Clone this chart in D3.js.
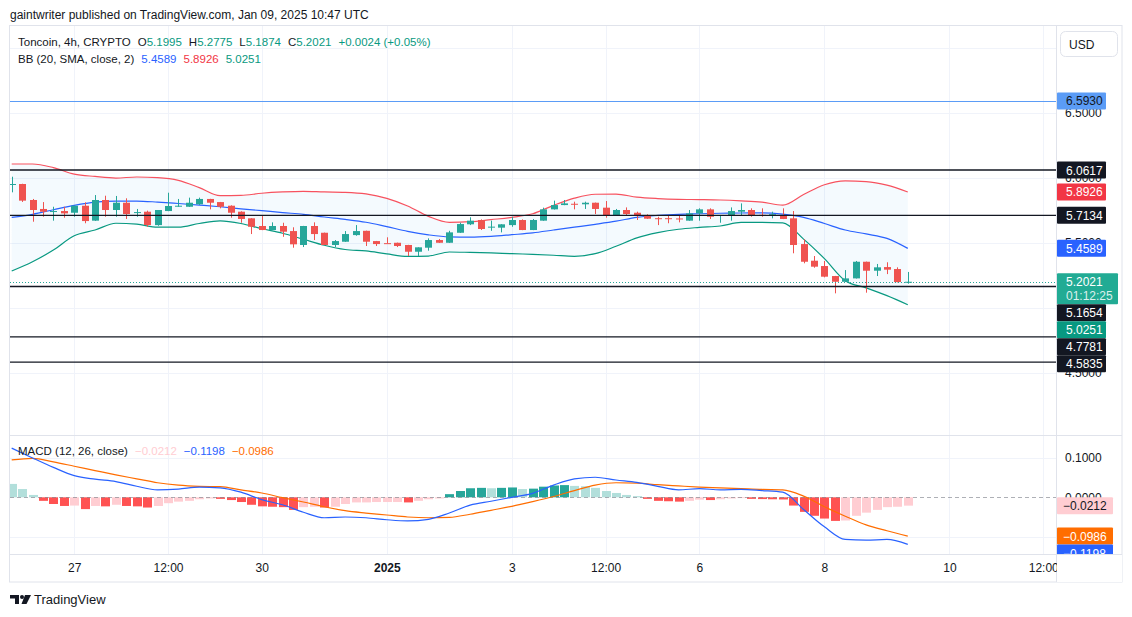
<!DOCTYPE html>
<html lang="en">
<head>
<meta charset="UTF-8">
<title>Toncoin 4h - TradingView</title>
<script src="https://d3js.org/d3.v7.min.js"></script>
<style>
  body { margin: 0; background: #fff; }
  svg { display: block; font-family: "Liberation Sans", Arial, sans-serif; }
  .tick text { font-size: 12px; fill: #131722; }
</style>
</head>
<body>
<svg width="1132" height="617"></svg>
<script>
// ---- data ----
// 4h candles, first one opens 2024-12-26 00:00 UTC: [open, high, low, close]
const ohlc = [
  [5.950, 6.010, 5.890, 5.954], [5.954, 5.956, 5.816, 5.826], [5.831, 5.839, 5.664, 5.754],
  [5.762, 5.815, 5.702, 5.741], [5.742, 5.779, 5.672, 5.746], [5.746, 5.779, 5.695, 5.728],
  [5.733, 5.787, 5.702, 5.787], [5.787, 5.813, 5.652, 5.669], [5.672, 5.869, 5.670, 5.831],
  [5.831, 5.864, 5.702, 5.754], [5.754, 5.862, 5.702, 5.810], [5.810, 5.844, 5.685, 5.723],
  [5.734, 5.762, 5.702, 5.738], [5.741, 5.749, 5.625, 5.638], [5.638, 5.754, 5.633, 5.754],
  [5.746, 5.887, 5.745, 5.785], [5.782, 5.839, 5.779, 5.787], [5.779, 5.849, 5.778, 5.810],
  [5.798, 5.849, 5.792, 5.839], [5.839, 5.840, 5.759, 5.810], [5.815, 5.816, 5.767, 5.779],
  [5.787, 5.790, 5.695, 5.733], [5.741, 5.744, 5.656, 5.685], [5.690, 5.691, 5.569, 5.625],
  [5.631, 5.715, 5.599, 5.600], [5.600, 5.659, 5.599, 5.631], [5.631, 5.656, 5.548, 5.587],
  [5.592, 5.621, 5.464, 5.490], [5.485, 5.632, 5.469, 5.631], [5.631, 5.659, 5.523, 5.569],
  [5.579, 5.580, 5.484, 5.485], [5.485, 5.523, 5.469, 5.515], [5.510, 5.592, 5.509, 5.569],
  [5.561, 5.638, 5.556, 5.592], [5.594, 5.595, 5.477, 5.510], [5.515, 5.516, 5.477, 5.492],
  [5.499, 5.544, 5.497, 5.497], [5.502, 5.503, 5.469, 5.477], [5.485, 5.486, 5.400, 5.433],
  [5.433, 5.467, 5.400, 5.467], [5.464, 5.536, 5.441, 5.523], [5.523, 5.531, 5.501, 5.502],
  [5.502, 5.594, 5.501, 5.582], [5.579, 5.656, 5.578, 5.646], [5.644, 5.698, 5.638, 5.672],
  [5.677, 5.682, 5.600, 5.608], [5.624, 5.672, 5.594, 5.626], [5.618, 5.645, 5.582, 5.644],
  [5.638, 5.702, 5.625, 5.677], [5.677, 5.682, 5.599, 5.600], [5.600, 5.685, 5.599, 5.677],
  [5.672, 5.772, 5.671, 5.759], [5.759, 5.826, 5.758, 5.792], [5.792, 5.831, 5.791, 5.805],
  [5.802, 5.818, 5.759, 5.798], [5.798, 5.818, 5.762, 5.810], [5.810, 5.811, 5.723, 5.762],
  [5.772, 5.823, 5.695, 5.710], [5.710, 5.762, 5.709, 5.754], [5.754, 5.774, 5.710, 5.723],
  [5.733, 5.741, 5.677, 5.710], [5.715, 5.721, 5.686, 5.687], [5.691, 5.702, 5.638, 5.689],
  [5.691, 5.708, 5.652, 5.689], [5.689, 5.708, 5.659, 5.687], [5.672, 5.754, 5.671, 5.728],
  [5.728, 5.767, 5.672, 5.759], [5.759, 5.767, 5.685, 5.702], [5.714, 5.716, 5.656, 5.716],
  [5.710, 5.774, 5.672, 5.746], [5.741, 5.805, 5.710, 5.754], [5.754, 5.767, 5.702, 5.710],
  [5.717, 5.767, 5.702, 5.713], [5.719, 5.741, 5.690, 5.722], [5.715, 5.767, 5.684, 5.685],
  [5.690, 5.746, 5.421, 5.485], [5.492, 5.529, 5.344, 5.356], [5.364, 5.400, 5.310, 5.318],
  [5.323, 5.362, 5.236, 5.241], [5.246, 5.247, 5.113, 5.202], [5.202, 5.292, 5.201, 5.228],
  [5.228, 5.362, 5.227, 5.356], [5.356, 5.357, 5.118, 5.287], [5.287, 5.339, 5.246, 5.313],
  [5.315, 5.352, 5.261, 5.295], [5.300, 5.313, 5.197, 5.1995], [5.1995, 5.2775, 5.1874, 5.2021]
];
const changeText = "+0.0024 (+0.05%)";

// Bollinger Bands (20, SMA, 2), one reading every 2nd candle
const bbUpper = [6.108, 6.108, 6.080, 6.030, 6.012, 6.000, 6.008, 6.003, 5.982, 5.926,
  5.864, 5.866, 5.883, 5.893, 5.898, 5.893, 5.890, 5.878, 5.844, 5.785,
  5.705, 5.659, 5.664, 5.680, 5.697, 5.725, 5.790, 5.845, 5.875, 5.876,
  5.853, 5.842, 5.836, 5.834, 5.831, 5.824, 5.814, 5.792, 5.873, 5.948,
  5.978, 5.973, 5.946, 5.8926];
const bbMiddle = [5.697, 5.721, 5.756, 5.790, 5.815, 5.823, 5.823, 5.815, 5.804, 5.792,
  5.779, 5.763, 5.749, 5.734, 5.721, 5.700, 5.682, 5.660, 5.626, 5.590,
  5.563, 5.547, 5.545, 5.551, 5.564, 5.578, 5.600, 5.622, 5.644, 5.668,
  5.698, 5.712, 5.721, 5.725, 5.729, 5.731, 5.732, 5.722, 5.697, 5.650,
  5.600, 5.570, 5.536, 5.4589];
const bbLower = [5.285, 5.356, 5.446, 5.556, 5.600, 5.652, 5.645, 5.622, 5.622, 5.650,
  5.670, 5.650, 5.610, 5.575, 5.529, 5.483, 5.450, 5.439, 5.416, 5.397,
  5.400, 5.431, 5.428, 5.424, 5.418, 5.413, 5.406, 5.398, 5.418, 5.475,
  5.540, 5.580, 5.606, 5.620, 5.631, 5.659, 5.659, 5.655, 5.530, 5.380,
  5.210, 5.155, 5.095, 5.0251];

// MACD (12, 26, close): lines every 2nd candle, histogram every candle
const macdLine = [0.125, 0.100, 0.076, 0.055, 0.046, 0.040, 0.028, 0.019, 0.021, 0.026,
  0.024, 0.013, -0.006, -0.019, -0.038, -0.052, -0.050, -0.052, -0.057, -0.060,
  -0.056, -0.040, -0.020, -0.010, 0.000, 0.010, 0.031, 0.047, 0.051, 0.044,
  0.038, 0.028, 0.019, 0.022, 0.019, 0.020, 0.017, 0.013, -0.031, -0.075,
  -0.107, -0.109, -0.107, -0.1198];
const signalLine = [0.095, 0.099, 0.090, 0.079, 0.068, 0.057, 0.047, 0.037, 0.031, 0.028,
  0.027, 0.019, 0.011, -0.001, -0.012, -0.024, -0.034, -0.040, -0.045, -0.050,
  -0.052, -0.051, -0.043, -0.033, -0.023, -0.011, 0.002, 0.017, 0.031, 0.037,
  0.036, 0.032, 0.029, 0.026, 0.024, 0.022, 0.020, 0.019, 0.003, -0.024,
  -0.048, -0.070, -0.085, -0.0986];
const macdHist = [0.034, 0.021, 0.006, -0.009, -0.017, -0.022, -0.021, -0.030, -0.022, -0.023,
  -0.019, -0.022, -0.023, -0.026, -0.022, -0.015, -0.011, -0.009, -0.005, -0.003,
  -0.004, -0.007, -0.012, -0.019, -0.023, -0.024, -0.025, -0.032, -0.025, -0.024,
  -0.026, -0.024, -0.017, -0.013, -0.013, -0.012, -0.012, -0.012, -0.013, -0.009,
  -0.005, -0.003, 0.008, 0.016, 0.023, 0.024, 0.023, 0.024, 0.025, 0.021,
  0.022, 0.027, 0.030, 0.031, 0.029, 0.028, 0.024, 0.016, 0.011, 0.006,
  0.003, -0.004, -0.009, -0.010, -0.011, -0.009, -0.006, -0.007, -0.005, -0.003,
  -0.002, -0.004, -0.0045, -0.005, -0.0055, -0.021, -0.037, -0.047, -0.054, -0.060,
  -0.059, -0.047, -0.039, -0.032, -0.025, -0.024, -0.0212];

// drawn horizontal lines
const resistanceLevel = 6.5930;
const levels = [6.0617, 5.7134, 5.1654, 4.7781, 4.5835];
const countdown = "01:12:25";

// axis ticks (grid lines at all, labels only where the chart shows them)
const priceTicks = [4.5, 5.0, 5.5, 6.0, 6.5, 7.0];
const priceTickLabels = [4.5, 5.5, 6.0, 6.5];
const macdTicks = [-0.1, 0, 0.1];
const macdTickLabels = [0, 0.1];
const timeTicks = [
  Date.UTC(2024, 11, 27), Date.UTC(2024, 11, 28, 12), Date.UTC(2024, 11, 30),
  Date.UTC(2025, 0, 1), Date.UTC(2025, 0, 3), Date.UTC(2025, 0, 4, 12),
  Date.UTC(2025, 0, 6), Date.UTC(2025, 0, 8), Date.UTC(2025, 0, 10), Date.UTC(2025, 0, 11, 12)
].map(d => new Date(d));
const timeLabels = ["27", "12:00", "30", "2025", "3", "12:00", "6", "8", "10", "12:00"];

// ---- layout ----
const svg = d3.select("svg");
const dark = "#131722";
const upCol = "#26a69a", downCol = "#ef5350";
const P = { l: 10, r: 1056, t: 26, b: 435, mt: 436, mb: 554, ab: 582, fr: 1122 };

const t0 = Date.UTC(2024, 11, 26);
const barTime = i => new Date(t0 + i * 4 * 3600e3);

const x = d3.scaleUtc()
  .domain([new Date(Date.UTC(2024, 11, 25, 23, 21)), new Date(Date.UTC(2025, 0, 11, 16, 54))])
  .range([P.l, P.r]);
const y = d3.scaleLinear().domain([4.0233, 7.1694]).range([P.b, P.t]);
const ym = d3.scaleLinear().domain([-0.1441, 0.1558]).range([P.mb, P.mt]);
const fmt = d3.format(".4f");

svg.append("rect").attr("width", 1132).attr("height", 617).attr("fill", "#fff");

const defs = svg.append("defs");
defs.append("clipPath").attr("id", "clipMain").append("rect")
  .attr("x", P.l).attr("y", P.t).attr("width", P.r - P.l).attr("height", P.b - P.t);
defs.append("clipPath").attr("id", "clipMacd").append("rect")
  .attr("x", P.l).attr("y", P.mt).attr("width", P.r - P.l).attr("height", P.mb - P.mt);
defs.append("clipPath").attr("id", "clipMacdAxis").append("rect")
  .attr("x", P.r).attr("y", P.mt).attr("width", P.fr - P.r).attr("height", P.mb - P.mt);

// grid
const grid = svg.append("g").attr("stroke", "#f0f3fa").attr("stroke-width", 1);
timeTicks.forEach(d => {
  const gx = Math.round(x(d)) + 0.5;
  grid.append("line").attr("x1", gx).attr("x2", gx).attr("y1", P.t).attr("y2", P.mb);
});
priceTicks.forEach(v => {
  const gy = Math.round(y(v)) + 0.5;
  grid.append("line").attr("x1", P.l).attr("x2", P.r).attr("y1", gy).attr("y2", gy);
});
[-0.1, 0.1].forEach(v => {
  const gy = Math.round(ym(v)) + 0.5;
  grid.append("line").attr("x1", P.l).attr("x2", P.r).attr("y1", gy).attr("y2", gy);
});

// ---- main pane ----
const main = svg.append("g").attr("clip-path", "url(#clipMain)");

const bands = bbUpper.map((u, k) => ({ t: barTime(2 * k), u: u, m: bbMiddle[k], lo: bbLower[k] }));
main.append("path").datum(bands)
  .attr("fill", "rgba(33,150,243,0.05)")
  .attr("d", d3.area().x(d => x(d.t)).y0(d => y(d.lo)).y1(d => y(d.u)).curve(d3.curveMonotoneX));
[["u", "#f7525f"], ["m", "#2962ff"], ["lo", "#089981"]].forEach(([k, c]) => {
  main.append("path").datum(bands)
    .attr("fill", "none").attr("stroke", c).attr("stroke-width", 1.2)
    .attr("d", d3.line().x(d => x(d.t)).y(d => y(d[k])).curve(d3.curveMonotoneX));
});

// candles
const candles = main.append("g").selectAll("g").data(ohlc).join("g")
  .attr("fill", d => d[3] >= d[0] ? upCol : downCol)
  .attr("stroke", d => d[3] >= d[0] ? upCol : downCol);
candles.append("line")
  .attr("x1", (d, i) => Math.round(x(barTime(i))) + 0.5)
  .attr("x2", (d, i) => Math.round(x(barTime(i))) + 0.5)
  .attr("y1", d => y(d[1])).attr("y2", d => y(d[2]));
candles.append("rect")
  .attr("stroke", "none")
  .attr("x", (d, i) => Math.round(x(barTime(i))) - 3)
  .attr("width", 7)
  .attr("y", d => y(Math.max(d[0], d[3])))
  .attr("height", d => Math.max(1, Math.abs(y(d[0]) - y(d[3]))));

// horizontal lines
main.append("line")
  .attr("x1", P.l).attr("x2", P.r)
  .attr("y1", Math.round(y(resistanceLevel)) + 0.5).attr("y2", Math.round(y(resistanceLevel)) + 0.5)
  .attr("stroke", "#5b9cf6").attr("stroke-width", 1);
levels.forEach(v => {
  main.append("line")
    .attr("x1", P.l).attr("x2", P.r)
    .attr("y1", y(v)).attr("y2", y(v))
    .attr("stroke", dark).attr("stroke-width", 1.3);
});
const lastBar = ohlc[ohlc.length - 1];
main.append("line")
  .attr("x1", P.l).attr("x2", P.r)
  .attr("y1", Math.round(y(lastBar[3])) + 0.5).attr("y2", Math.round(y(lastBar[3])) + 0.5)
  .attr("stroke", upCol).attr("stroke-dasharray", "1,2");

// ---- MACD pane ----
const macd = svg.append("g").attr("clip-path", "url(#clipMacd)");
macd.append("g").selectAll("rect").data(macdHist).join("rect")
  .attr("x", (d, i) => Math.round(x(barTime(i))) - 4)
  .attr("width", 9)
  .attr("y", d => Math.min(ym(d), ym(0)))
  .attr("height", d => Math.abs(ym(d) - ym(0)))
  .attr("fill", (d, i) => {
    const prev = i > 0 ? macdHist[i - 1] : d;
    if (d >= 0) return d > prev ? "#26a69a" : "#b2dfdb";
    return d < prev ? "#ff5252" : "#ffcdd2";
  });
macd.append("line")
  .attr("x1", P.l).attr("x2", P.r)
  .attr("y1", Math.round(ym(0)) + 0.5).attr("y2", Math.round(ym(0)) + 0.5)
  .attr("stroke", "#787b86").attr("stroke-opacity", 0.6).attr("stroke-dasharray", "4,3");
const macdPts = macdLine.map((v, k) => ({ t: barTime(2 * k), m: v, s: signalLine[k] }));
[["s", "#ff6d00"], ["m", "#2962ff"]].forEach(([k, c]) => {
  macd.append("path").datum(macdPts)
    .attr("fill", "none").attr("stroke", c).attr("stroke-width", 1.2)
    .attr("d", d3.line().x(d => x(d.t)).y(d => ym(d[k])).curve(d3.curveMonotoneX));
});

// ---- frame ----
const frame = svg.append("g").attr("stroke", "#e0e3eb").attr("fill", "none");
frame.append("rect").attr("x", 9.5).attr("y", 25.5).attr("width", P.fr - 9.5).attr("height", P.ab - 25.5);
frame.append("line").attr("x1", P.r + 0.5).attr("x2", P.r + 0.5).attr("y1", P.t).attr("y2", P.ab);
frame.append("line").attr("x1", 10).attr("x2", P.fr).attr("y1", P.b + 0.5).attr("y2", P.b + 0.5);
frame.append("line").attr("x1", 10).attr("x2", P.fr).attr("y1", P.mb + 0.5).attr("y2", P.mb + 0.5);

// ---- axes ----
const timeAxis = svg.append("g")
  .attr("transform", `translate(0,${P.mb})`)
  .call(d3.axisBottom(x).tickValues(timeTicks).tickSize(0).tickPadding(9)
    .tickFormat((d, i) => timeLabels[i]));
timeAxis.select(".domain").remove();
timeAxis.selectAll("text")
  .style("font-weight", (d, i) => timeLabels[i] === "2025" ? "bold" : "normal");
// the last label runs under the price scale
timeAxis.append("rect").attr("x", P.r + 1).attr("y", 1).attr("width", P.fr - P.r - 1).attr("height", 27).attr("fill", "#fff");

const priceAxis = svg.append("g")
  .attr("transform", `translate(${P.r},0)`)
  .call(d3.axisRight(y).tickValues(priceTickLabels).tickSize(0).tickPadding(9).tickFormat(fmt));
priceAxis.select(".domain").remove();

const macdAxis = svg.append("g")
  .attr("clip-path", "url(#clipMacdAxis)");
const macdAxisG = macdAxis.append("g")
  .attr("transform", `translate(${P.r},0)`)
  .call(d3.axisRight(ym).tickValues(macdTickLabels).tickSize(0).tickPadding(9).tickFormat(fmt));
macdAxisG.select(".domain").remove();

// price-scale label boxes, stacked so they do not overlap
function drawLabels(g, items) {
  items.sort((a, b) => a.cy - b.cy);
  let prevBottom = -Infinity;
  items.forEach(it => {
    const h = it.sub ? 31 : 17;
    const neg = it.text.startsWith("−");
    const top = Math.max(it.cy - 8.5, prevBottom);
    prevBottom = top + h;
    g.append("rect").attr("x", P.r + 1).attr("y", top)
      .attr("width", it.sub ? 61 : (neg ? 56 : 49)).attr("height", h)
      .attr("rx", 1).attr("fill", it.bg);
    g.append("text").attr("x", P.r + (neg ? 7 : 10)).attr("y", top + 13)
      .attr("fill", it.fg).style("font-size", "12px").text(it.text);
    if (it.sub) {
      g.append("text").attr("x", P.r + 10).attr("y", top + 27)
        .attr("fill", it.fg).attr("fill-opacity", 0.85).style("font-size", "12px").text(it.sub);
    }
  });
}
const mainLabels = svg.append("g");
const bbLast = bbUpper.length - 1;
drawLabels(mainLabels, [
  { cy: y(resistanceLevel), text: fmt(resistanceLevel), bg: "#5b9cf6", fg: dark },
  ...levels.map(v => ({ cy: y(v), text: fmt(v), bg: dark, fg: "#fff" })),
  { cy: y(bbUpper[bbLast]), text: fmt(bbUpper[bbLast]), bg: "#f23645", fg: "#fff" },
  { cy: y(bbMiddle[bbLast]), text: fmt(bbMiddle[bbLast]), bg: "#2962ff", fg: "#fff" },
  { cy: y(bbLower[bbLast]), text: fmt(bbLower[bbLast]), bg: "#089981", fg: "#fff" },
  { cy: y(lastBar[3]), text: fmt(lastBar[3]), sub: countdown, bg: "#22ab94", fg: "#fff" }
]);
const macdLast = macdLine.length - 1;
drawLabels(macdAxis, [
  { cy: ym(macdHist[macdHist.length - 1]), text: fmt(macdHist[macdHist.length - 1]), bg: "#ffcdd2", fg: dark },
  { cy: ym(signalLine[macdLast]), text: fmt(signalLine[macdLast]), bg: "#ff6d00", fg: "#fff" },
  { cy: ym(macdLine[macdLast]), text: fmt(macdLine[macdLast]), bg: "#2962ff", fg: "#fff" }
]);

// ---- texts ----
svg.append("text").attr("x", 10).attr("y", 19)
  .attr("fill", dark).style("font-size", "12px")
  .text("gaintwriter published on TradingView.com, Jan 09, 2025 10:47 UTC");

const teal = "#089981";
const lg1 = svg.append("text").attr("x", 18).attr("y", 46).style("font-size", "11.5px");
lg1.append("tspan").attr("fill", dark).text("Toncoin, 4h, CRYPTO");
["O", "H", "L", "C"].forEach((k, i) => {
  lg1.append("tspan").attr("dx", 7).attr("fill", dark).text(k);
  lg1.append("tspan").attr("fill", teal).text(fmt(lastBar[i]));
});
lg1.append("tspan").attr("dx", 7).attr("fill", teal).text(changeText);

const lg2 = svg.append("text").attr("x", 18).attr("y", 63).style("font-size", "11.5px");
lg2.append("tspan").attr("fill", dark).text("BB (20, SMA, close, 2)");
[[bbMiddle[bbLast], "#2962ff"], [bbUpper[bbLast], "#f23645"], [bbLower[bbLast], teal]].forEach(([v, c]) => {
  lg2.append("tspan").attr("dx", 7).attr("fill", c).text(fmt(v));
});

const lg3 = svg.append("text").attr("x", 18).attr("y", 455).style("font-size", "11.5px");
lg3.append("tspan").attr("fill", dark).text("MACD (12, 26, close)");
[[macdHist[macdHist.length - 1], "#ffcdd2"], [macdLine[macdLast], "#2962ff"], [signalLine[macdLast], "#ff6d00"]]
  .forEach(([v, c]) => {
    lg3.append("tspan").attr("dx", 7).attr("fill", c).text(fmt(v));
  });

// currency button
svg.append("rect").attr("x", 1060.5).attr("y", 31.5).attr("width", 57).attr("height", 25).attr("rx", 5)
  .attr("fill", "#fff").attr("stroke", "#e0e3eb");
svg.append("text").attr("x", 1069).attr("y", 48.5).attr("fill", dark).style("font-size", "12px").text("USD");

// TradingView logo
const logo = svg.append("g").attr("fill", dark);
logo.append("path").attr("d", "M10,595 H19 V604 H15 V598.5 H10 Z");
logo.append("circle").attr("cx", 22).attr("cy", 597).attr("r", 2);
logo.append("path").attr("d", "M25,595 H31 L26.5,604 H21.5 Z");
svg.append("text").attr("x", 34).attr("y", 604).attr("fill", dark).style("font-size", "13px").text("TradingView");
</script>
</body>
</html>
